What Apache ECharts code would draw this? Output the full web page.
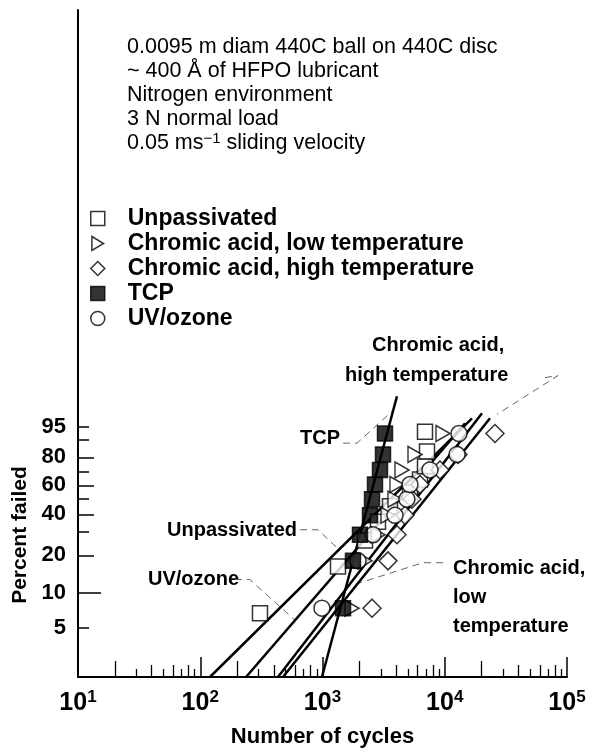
<!DOCTYPE html>
<html>
<head>
<meta charset="utf-8">
<title>Percent failed vs number of cycles</title>
<script src="https://cdn.jsdelivr.net/npm/echarts@6/dist/echarts.min.js"></script>
<style>
  html, body { margin: 0; padding: 0; background: #fff; }
  #chart { width: 606px; height: 753px; }
</style>
</head>
<body>
<div id="chart"></div>
<script>
// points: cycles to failure and percent failed
var unpassCycles = [308, 1339, 2227, 2844, 3565, 5196, 6272, 6892, 7158, 6892];
var unpassPct = [6.7, 16.3, 26.0, 35.6, 45.2, 54.8, 64.4, 74.0, 83.7, 93.3];

var lowTempCycles = [1743, 2227, 2844, 3434, 3917, 4067, 4470, 5710, 9676];
var lowTempPct = [7.4, 18.1, 28.7, 39.4, 50.0, 60.6, 71.3, 81.9, 92.6];

var highTempCycles = [2541, 3434, 4067, 4730, 5397, 6272, 9144, 12840, 25760];
var highTempPct = [7.4, 18.1, 28.7, 39.4, 50.0, 60.6, 71.3, 81.9, 92.6];

var tcpCycles = [1472, 1776, 2026, 2446, 2541, 2688, 2953, 3125, 3245];
var tcpPct = [7.4, 18.1, 28.7, 39.4, 50.0, 60.6, 71.3, 81.9, 92.6];

var uvCycles = [990, 1952, 2589, 3917, 4900, 5196, 7574, 12600, 13080];
var uvPct = [7.4, 18.1, 28.7, 39.4, 50.0, 60.6, 71.3, 81.9, 92.6];

// fitted lines, two ends each as [cycles, percent]
var unpassFit = [[120, 1.9], [16700, 97.1]];
var uvFit = [[237, 1.9], [14650, 95.9]];
var lowTempFit = [[432, 1.9], [20180, 98.0]];
var highTempFit = [[475, 1.9], [23440, 97.1]];
var tcpFit = [[990, 1.9], [4066, 99.6]];

// dashed leaders from the labels, [cycles, percent]
var tcpLeader = [[1472, 88.3], [1915, 88.3], [3703, 98.3]];
var highLeader = [[66070, 99.968], [84400, 99.977], [26760, 97.84]];
var unpassLeader = [[655, 31.2], [919, 31.2], [1314, 22.9]];
var uvLeader = [[192, 12.8], [255, 12.8], [596, 5.85]];
var lowLeader = [[9676, 17.5], [6637, 17.5], [1528, 11.0]];

// axes
var decades = [1, 2, 3, 4, 5];           // log10 of cycles
var yLabelPct = [5, 10, 20, 40, 60, 80, 95];
var yLongPct = [20, 40, 60, 80];
var yShortPct = [5, 30, 50, 70, 90, 95];
var yMinPct = 1.9;
var yMaxW = 9.5;

var FONT = '"Liberation Sans", Arial, Helvetica, sans-serif';

function weib(p) { return Math.log(-Math.log(1 - p / 100)); }
function pts(cyc, pct) {
    return cyc.map(function (c, i) { return [Math.log10(c), weib(pct[i])]; });
}
function pairs(arr) {
    return arr.map(function (d) { return [Math.log10(d[0]), weib(d[1])]; });
}
function minorTicks(mults) {
    var out = [];
    [1, 2, 3, 4].forEach(function (d) {
        mults.forEach(function (m) { out.push(d + Math.log10(m)); });
    });
    return out;
}

var chart = echarts.init(document.getElementById('chart'));

var hollow = { color: '#fff', borderColor: '#000', borderWidth: 1.5 };

function fitLine(name, data) {
    return {
        name: name, type: 'line', data: pairs(data), showSymbol: false, silent: true,
        lineStyle: { color: '#000', width: 2.5 }, z: 2
    };
}
function leader(data) {
    return {
        type: 'line', data: pairs(data), showSymbol: false, silent: true,
        lineStyle: { color: '#666', width: 1, type: [7, 5] }, z: 1
    };
}
function hiddenX(vals, len) {
    return {
        type: 'value', min: 1, max: 5, position: 'bottom',
        axisLine: { show: false, onZero: false }, axisLabel: { show: false }, splitLine: { show: false },
        axisTick: { inside: true, length: len, customValues: vals, lineStyle: { color: '#000', width: 1.3 } }
    };
}
function hiddenY(vals, len) {
    return {
        type: 'value', min: weib(yMinPct), max: yMaxW, position: 'left',
        axisLine: { show: false, onZero: false }, axisLabel: { show: false }, splitLine: { show: false },
        axisTick: { inside: true, length: len, customValues: vals.map(weib), lineStyle: { color: '#000', width: 1.5 } }
    };
}

var option = {
    animation: false,
    backgroundColor: '#fff',
    grid: { left: 78, right: 39, top: 10, bottom: 73 },
    legend: {
        data: ['Unpassivated', 'Chromic acid, low temperature', 'Chromic acid, high temperature', 'TCP', 'UV/ozone'],
        orient: 'vertical', left: 85, top: 202,
        itemWidth: 14, itemHeight: 14, itemGap: 2,
        selectedMode: false,
        itemStyle: { borderWidth: 1.5 },
        textStyle: { fontFamily: FONT, fontSize: 23, fontWeight: 'bold', color: '#000', lineHeight: 23, padding: [0, 0, 0, 18] }
    },
    xAxis: [
        {
            type: 'value', min: 1, max: 5, position: 'bottom',
            axisLine: { onZero: false, lineStyle: { color: '#000', width: 2 } },
            axisTick: { inside: true, length: 20, customValues: decades, lineStyle: { color: '#000', width: 1.5 } },
            axisLabel: {
                customValues: decades, margin: 12, color: '#000',
                formatter: function (v) { return '{b|10}{s|' + v + '}'; },
                rich: {
                    b: { fontFamily: FONT, fontSize: 25, fontWeight: 'bold', lineHeight: 28 },
                    s: { fontFamily: FONT, fontSize: 17, fontWeight: 'bold', lineHeight: 17, verticalAlign: 'top' }
                }
            },
            splitLine: { show: false },
            name: 'Number of cycles', nameLocation: 'middle', nameGap: 49,
            nameTextStyle: { fontFamily: FONT, fontSize: 22, fontWeight: 'bold', color: '#000' }
        },
        hiddenX(minorTicks([2]), 16),
        hiddenX(minorTicks([4, 6, 8]), 12),
        hiddenX(minorTicks([3, 5, 7, 9]), 8)
    ],
    yAxis: [
        {
            type: 'value', min: weib(yMinPct), max: yMaxW, position: 'left',
            axisLine: { onZero: false, lineStyle: { color: '#000', width: 2 } },
            axisTick: { inside: true, length: 16, customValues: yLongPct.map(weib), lineStyle: { color: '#000', width: 1.5 } },
            axisLabel: {
                customValues: yLabelPct.map(weib), margin: 12, color: '#000',
                fontFamily: FONT, fontSize: 22, fontWeight: 'bold',
                formatter: function (v) { return String(Math.round(100 * (1 - Math.exp(-Math.exp(v))))); }
            },
            splitLine: { show: false }
        },
        hiddenY(yShortPct, 11),
        hiddenY([10], 23)
    ],
    graphic: [
        {
            type: 'text', left: 127, top: 35,
            style: {
                text: '0.0095 m diam 440C ball on 440C disc\n~ 400 Å of HFPO lubricant\nNitrogen environment\n3 N normal load\n{a|0.05 ms}{s|−1}{a| sliding velocity}',
                font: '21.5px ' + FONT, fill: '#000', lineHeight: 24,
                rich: {
                    a: { fontFamily: FONT, fontSize: 21.5, lineHeight: 24 },
                    s: { fontFamily: FONT, fontSize: 15, lineHeight: 15, verticalAlign: 'top' }
                }
            }
        },
        {
            type: 'text', rotation: Math.PI / 2, x: 20, y: 535,
            style: { text: 'Percent failed', font: 'bold 21px ' + FONT, fill: '#000', align: 'center', verticalAlign: 'middle' }
        },
        { type: 'text', left: 372, top: 335, style: { text: 'Chromic acid,', font: 'bold 20px ' + FONT, fill: '#000' } },
        { type: 'text', left: 345, top: 365, style: { text: 'high temperature', font: 'bold 20px ' + FONT, fill: '#000' } },
        { type: 'text', left: 300, top: 428, style: { text: 'TCP', font: 'bold 20px ' + FONT, fill: '#000' } },
        { type: 'text', left: 167, top: 520, style: { text: 'Unpassivated', font: 'bold 20px ' + FONT, fill: '#000' } },
        { type: 'text', left: 148, top: 569, style: { text: 'UV/ozone', font: 'bold 20px ' + FONT, fill: '#000' } },
        {
            type: 'text', left: 453, top: 554,
            style: { text: 'Chromic acid,\nlow\ntemperature', font: 'bold 20px ' + FONT, fill: '#000', lineHeight: 29 }
        }
    ],
    series: [
        leader(tcpLeader), leader(highLeader), leader(unpassLeader), leader(uvLeader), leader(lowLeader),
        fitLine('fit unpassivated', unpassFit),
        fitLine('fit uv', uvFit),
        fitLine('fit low', lowTempFit),
        fitLine('fit high', highTempFit),
        fitLine('fit tcp', tcpFit),
        {
            name: 'Unpassivated', type: 'scatter', data: pts(unpassCycles, unpassPct),
            symbol: 'rect', symbolSize: 15, itemStyle: hollow, z: 3
        },
        {
            name: 'Chromic acid, low temperature', type: 'scatter', data: pts(lowTempCycles, lowTempPct),
            symbol: 'path://M0,0L10,6L0,12Z', symbolSize: [14, 16], itemStyle: hollow, z: 3
        },
        {
            name: 'Chromic acid, high temperature', type: 'scatter', data: pts(highTempCycles, highTempPct),
            symbol: 'diamond', symbolSize: 18, itemStyle: hollow, z: 3
        },
        {
            name: 'TCP', type: 'scatter', data: pts(tcpCycles, tcpPct),
            symbol: 'rect', symbolSize: 15, itemStyle: { color: '#000', borderColor: '#000', borderWidth: 1.5 }, z: 4
        },
        {
            name: 'UV/ozone', type: 'scatter', data: pts(uvCycles, uvPct),
            symbol: 'circle', symbolSize: 16, itemStyle: hollow, z: 3
        }
    ]
};

chart.setOption(option);
</script>
</body>
</html>
